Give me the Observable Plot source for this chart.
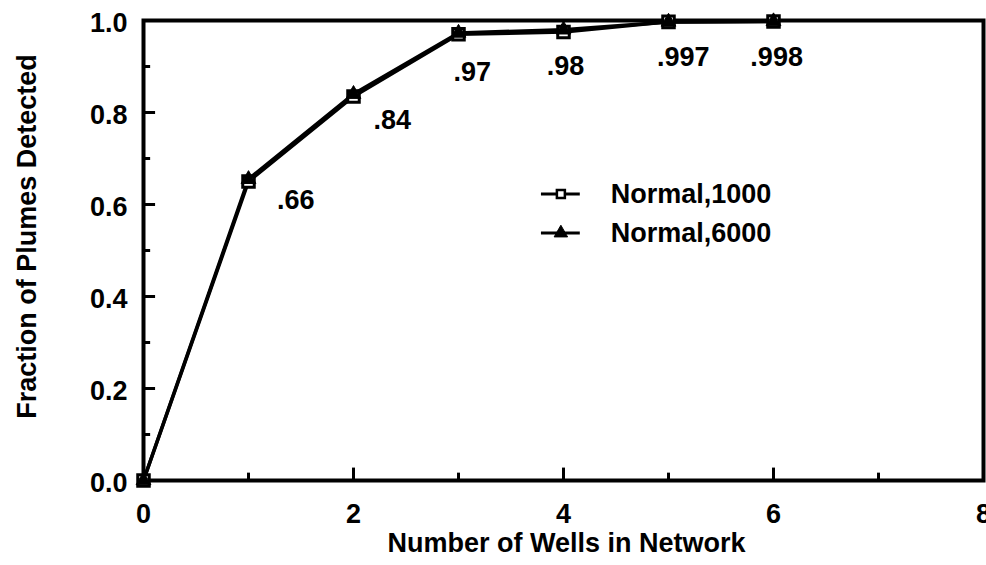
<!DOCTYPE html>
<html><head><meta charset="utf-8">
<script src="https://cdn.jsdelivr.net/npm/d3@7"></script>
<script src="https://cdn.jsdelivr.net/npm/@observablehq/plot@0.6"></script>
<style>html,body{margin:0;padding:0;background:#fff;}</style>
</head><body><div id="chart"></div>
<script>
// ---- data ----
const wells = [0, 1, 2, 3, 4, 5, 6];
const normal1000 = [0, 0.650, 0.835, 0.970, 0.975, 0.997, 0.998];
const normal6000 = [0, 0.655, 0.840, 0.973, 0.980, 0.997, 0.998];
const seriesNames = ["Normal,1000", "Normal,6000"];
const xTicks = [0, 2, 4, 6, 8];
const xMinorTicks = [1, 3, 5, 7];
const yTicks = [0, 0.2, 0.4, 0.6, 0.8, 1.0];
const yMinorTicks = [0.1, 0.3, 0.5, 0.7, 0.9];
const labelText = [".66", ".84", ".97", ".98", ".997", ".998"];
const labelX = [1.45, 2.37, 3.13, 4.02, 5.14, 6.03];
const labelY = [0.610, 0.784, 0.888, 0.901, 0.919, 0.919];
const legendY = [0.623, 0.538];
const xTitle = "Number of Wells in Network";
const yTitle = "Fraction of Plumes Detected";

// ---- build tables ----
const rows = [
  ...wells.map((w, i) => ({series: seriesNames[0], x: w, y: normal1000[i]})),
  ...wells.map((w, i) => ({series: seriesNames[1], x: w, y: normal6000[i]}))
];
const labels = labelText.map((t, i) => ({t, x: labelX[i], y: labelY[i]}));
const legend = seriesNames.map((s, i) => ({s, y: legendY[i]}));

const font = "Liberation Sans, Arial, Helvetica, sans-serif";
const fs = 27;
const txt = {fontFamily: font, fontSize: fs, fontWeight: "bold", fill: "black"};

const chart = Plot.plot({
  width: 986,
  height: 565,
  marginLeft: 143,
  marginRight: 3,
  marginTop: 20,
  marginBottom: 85,
  style: {fontFamily: font, background: "white"},
  x: {domain: [0, 8], axis: null},
  y: {domain: [0, 1], axis: null},
  marks: [
    // inward ticks
    Plot.ruleX(xTicks, {x: d => d, y1: 0, y2: 0.027, stroke: "black", strokeWidth: 3}),
    Plot.ruleX(xMinorTicks, {x: d => d, y1: 0, y2: 0.016, stroke: "black", strokeWidth: 3}),
    Plot.ruleY(yTicks, {y: d => d, x1: 0, x2: 0.115, stroke: "black", strokeWidth: 3}),
    Plot.ruleY(yMinorTicks, {y: d => d, x1: 0, x2: 0.068, stroke: "black", strokeWidth: 3}),
    Plot.frame({stroke: "black", strokeWidth: 4}),
    // tick labels
    Plot.text(xTicks, {x: d => d, text: d => String(d), frameAnchor: "bottom", lineAnchor: "middle", dy: 34, ...txt}),
    Plot.text(yTicks, {y: d => d, text: d => d.toFixed(1), frameAnchor: "left", textAnchor: "end", lineAnchor: "middle", dx: -16, dy: 3, ...txt}),
    // axis titles
    Plot.text([xTitle], {frameAnchor: "bottom", lineAnchor: "middle", textAnchor: "middle", dy: 63, dx: 3, ...txt}),
    Plot.text([yTitle], {frameAnchor: "left", textAnchor: "middle", lineAnchor: "middle", rotate: -90, dx: -116, dy: -14, ...txt}),
    // series lines
    Plot.line(rows, {x: "x", y: "y", z: "series", stroke: "black", strokeWidth: 3.5, strokeLinejoin: "miter"}),
    Plot.dot(rows.filter(d => d.series === seriesNames[0]), {x: "x", y: "y", symbol: "square", r: 6.5, fill: "white", stroke: "black", strokeWidth: 3}),
    Plot.dot(rows.filter(d => d.series === seriesNames[1]), {x: "x", y: "y", symbol: "triangle", r: 5.5, fill: "black", stroke: "black", strokeWidth: 1}),
    // value labels
    Plot.text(labels, {x: "x", y: "y", text: "t", ...txt}),
    // legend
    Plot.ruleY(legend, {y: "y", x1: 3.79, x2: 4.16, stroke: "black", strokeWidth: 3}),
    Plot.dot(legend.slice(0, 1), {x: 3.975, y: "y", symbol: "square", r: 4.5, fill: "white", stroke: "black", strokeWidth: 2.5}),
    Plot.dot(legend.slice(1), {x: 3.975, y: "y", symbol: "triangle", r: 5, fill: "black", stroke: "black", strokeWidth: 1}),
    Plot.text(legend, {x: 4.45, y: "y", text: "s", textAnchor: "start", ...txt})
  ]
});
document.getElementById("chart").appendChild(chart);
</script>
</body></html>
